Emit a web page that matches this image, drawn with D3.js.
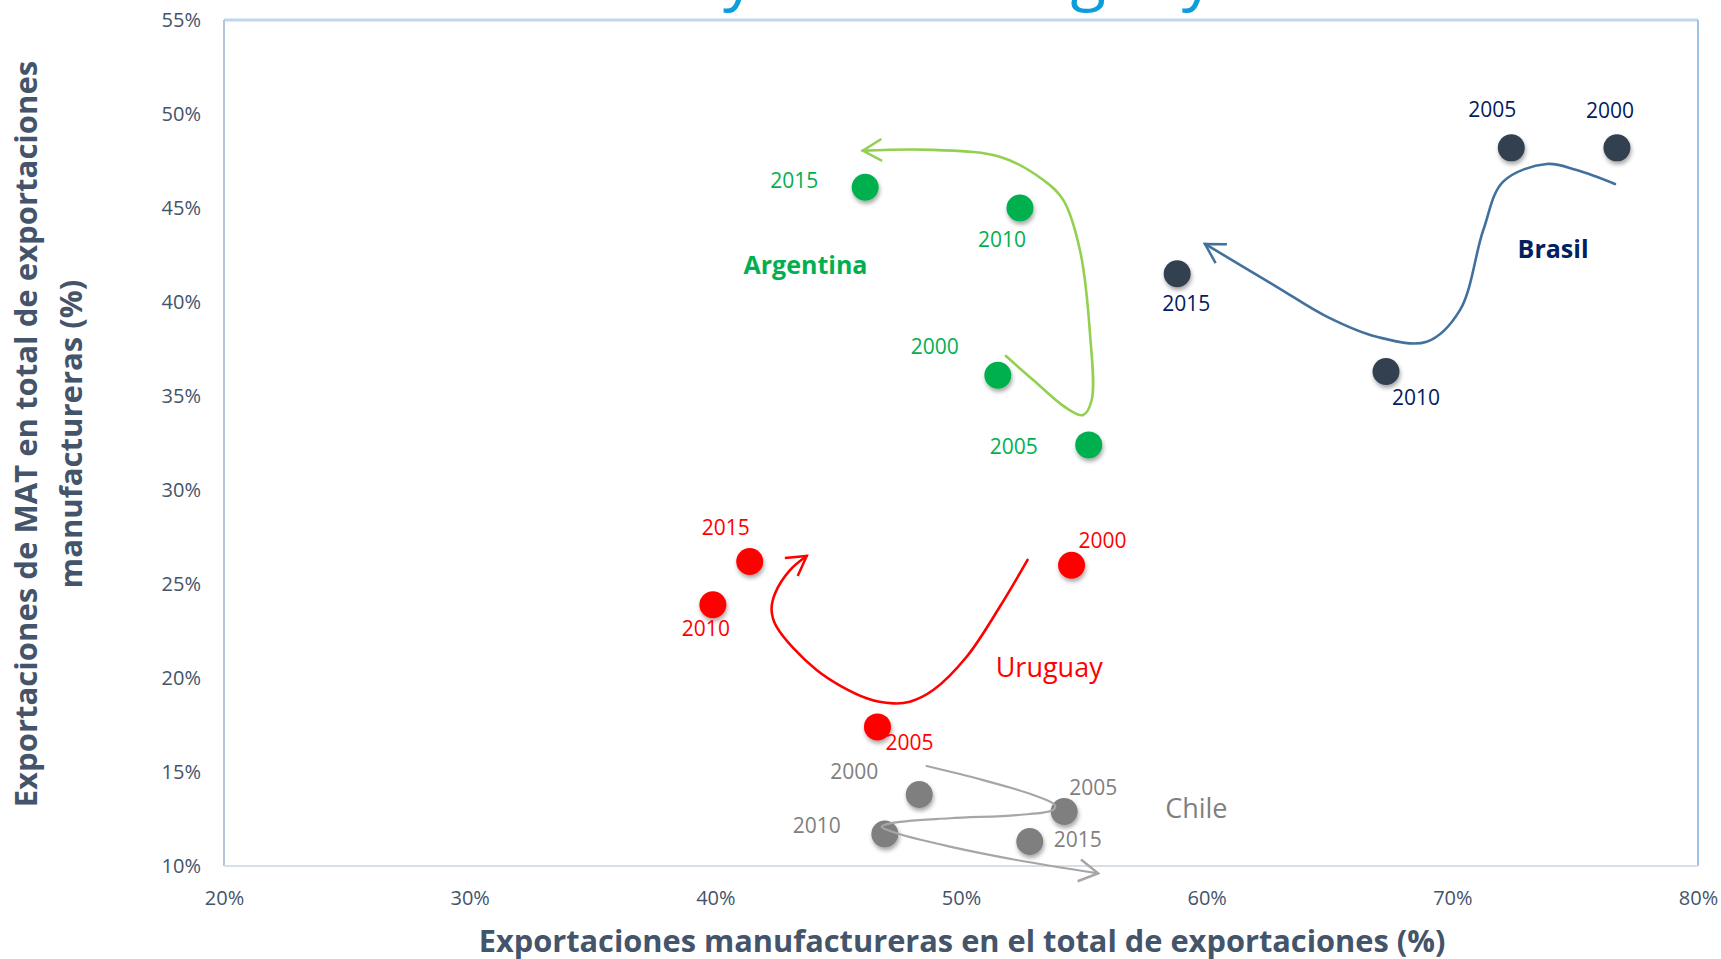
<!DOCTYPE html>
<html>
<head>
<meta charset="utf-8">
<script src="https://cdn.jsdelivr.net/npm/d3@7"></script>
<style>
  body { margin: 0; background: #fff; }
  svg { display: block; }
</style>
</head>
<body>
<svg id="chart"></svg>
<script>
// values (percent)
const years = ["2000", "2005", "2010", "2015"]

const brasilX = [76.7, 72.4, 67.3, 58.8]
const brasilY = [48.2, 48.2, 36.3, 41.5]
const argentinaX = [51.5, 55.2, 52.4, 46.1]
const argentinaY = [36.1, 32.4, 45.0, 46.1]
const uruguayX = [54.5, 46.6, 39.9, 41.4]
const uruguayY = [26.0, 17.4, 23.9, 26.2]
const chileX = [48.3, 54.2, 46.9, 52.8]
const chileY = [13.8, 12.9, 11.7, 11.3]

const xTicks = [20, 30, 40, 50, 60, 70, 80]
const yTicks = [10, 15, 20, 25, 30, 35, 40, 45, 50, 55]

// hand drawn trend arrows, in data units
const brasilTrend = [[76.62, 46.28], [75.06, 47.02], [73.84, 47.34], [72.07, 46.4], [71.26, 43.83], [70.31, 39.57], [68.96, 37.89], [66.92, 38.15], [64.89, 39.22], [62.85, 40.81], [59.93, 43.09]]
const argentinaTrend = [[51.83, 37.13], [52.94, 35.85], [54.3, 34.35], [54.97, 33.99], [55.32, 34.79], [55.25, 38.33], [54.84, 42.77], [54.16, 45.43], [53.35, 46.49], [51.58, 47.73], [48.86, 48.09], [46.0, 48.05]]
const uruguayTrend = [[52.71, 26.28], [51.58, 23.79], [50.23, 21.13], [48.87, 19.36], [47.92, 18.74], [47.24, 18.65], [46.16, 18.92], [44.12, 20.43], [42.49, 22.73], [42.29, 23.62], [42.43, 24.5], [43.04, 25.74], [43.72, 26.49]]
const chileTrend = [[48.6, 15.32], [50.9, 14.57], [52.94, 13.78], [53.82, 13.24], [53.75, 12.98], [52.26, 12.71], [49.55, 12.54], [47.11, 12.27], [46.77, 12.09], [47.38, 11.74], [49.55, 11.03], [52.26, 10.32], [55.58, 9.61]]

// where the country names sit, in data units
const brasilName = [74.1, 42.8]
const argentinaName = [43.67, 41.94]
const uruguayName = [53.59, 20.57]
const chileName = [59.58, 13.03]

// layout: year label offsets from each dot (px)
const brasilOffsets = [[-7, -37], [-19, -38], [30, 26], [9, 30]]
const argentinaOffsets = [[-63, -29], [-75, 2], [-18, 32], [-71, -7]]
const uruguayOffsets = [[31, -25], [32, 16], [-7, 24], [-24, -34]]
const chileOffsets = [[-65, -23], [29, -24], [-68, -8], [48, -2]]

const series = [
  { id: "brasil", name: "Brasil", xs: brasilX, ys: brasilY, trend: brasilTrend, namePos: brasilName, offsets: brasilOffsets,
    dot: "#333f50", text: "#002060", line: "#41719c", bold: true, nameSize: 25 },
  { id: "argentina", name: "Argentina", xs: argentinaX, ys: argentinaY, trend: argentinaTrend, namePos: argentinaName, offsets: argentinaOffsets,
    dot: "#00b050", text: "#00b050", line: "#92d050", bold: true, nameSize: 25 },
  { id: "uruguay", name: "Uruguay", xs: uruguayX, ys: uruguayY, trend: uruguayTrend, namePos: uruguayName, offsets: uruguayOffsets,
    dot: "#ff0000", text: "#ff0000", line: "#ff0000", bold: false, nameSize: 27 },
  { id: "chile", name: "Chile", xs: chileX, ys: chileY, trend: chileTrend, namePos: chileName, offsets: chileOffsets,
    dot: "#7f7f7f", text: "#7f7f7f", line: "#a6a6a6", bold: false, nameSize: 27 }
]

const width = 1721
const height = 959
const plotLeft = 224, plotRight = 1698, plotTop = 20, plotBottom = 866
const font = "'Open Sans', 'Noto Sans', sans-serif"
const axisColor = "#44546a"

const svg = d3.select("#chart")
  .attr("width", width)
  .attr("height", height)
  .style("font-family", font)

const defs = svg.append("defs")
defs.append("filter")
  .attr("id", "shadow")
  .attr("x", "-50%").attr("y", "-50%")
  .attr("width", "200%").attr("height", "200%")
  .append("feDropShadow")
  .attr("dx", 1).attr("dy", 3)
  .attr("stdDeviation", 2)
  .attr("flood-color", "#000")
  .attr("flood-opacity", 0.35)

series.forEach(s => {
  defs.append("marker")
    .attr("id", "arrow-" + s.id)
    .attr("markerUnits", "userSpaceOnUse")
    .attr("viewBox", "-22 -14 26 28")
    .attr("markerWidth", 26)
    .attr("markerHeight", 28)
    .attr("refX", 0)
    .attr("refY", 0)
    .attr("orient", "auto")
    .append("path")
    .attr("d", "M-19,-11L0,0L-19,11")
    .attr("fill", "none")
    .attr("stroke", s.line)
    .attr("stroke-width", 2.5)
})

const x = d3.scaleLinear().domain([20, 80]).range([plotLeft, plotRight])
const y = d3.scaleLinear().domain([10, 55]).range([plotBottom, plotTop])

// cut off title at the top of the slide
svg.append("text")
  .attr("x", 417)
  .attr("y", -3)
  .attr("font-size", 65)
  .attr("fill", "#0d9ddb")
  .text("Mercosur y Chile: Uruguay")

// plot frame
svg.append("line").attr("x1", plotLeft).attr("x2", plotRight).attr("y1", plotTop).attr("y2", plotTop)
  .attr("stroke", "#bdd7ee").attr("stroke-width", 3)
svg.append("line").attr("x1", plotRight).attr("x2", plotRight).attr("y1", plotTop).attr("y2", plotBottom)
  .attr("stroke", "#9dc3e6").attr("stroke-width", 2)
svg.append("line").attr("x1", plotLeft).attr("x2", plotLeft).attr("y1", plotTop).attr("y2", plotBottom)
  .attr("stroke", "#b4c5da").attr("stroke-width", 2)
svg.append("line").attr("x1", plotLeft).attr("x2", plotRight).attr("y1", plotBottom).attr("y2", plotBottom)
  .attr("stroke", "#d9dfe7").attr("stroke-width", 2)

// axes
const yAxis = svg.append("g")
  .attr("transform", `translate(${plotLeft},0)`)
  .call(d3.axisLeft(y).tickValues(yTicks).tickFormat(d => d + "%").tickSize(0).tickPadding(23))
const xAxis = svg.append("g")
  .attr("transform", `translate(0,${plotBottom})`)
  .call(d3.axisBottom(x).tickValues(xTicks).tickFormat(d => d + "%").tickSize(0).tickPadding(25))

;[xAxis, yAxis].forEach(g => {
  g.select(".domain").remove()
  g.selectAll("text")
    .attr("fill", axisColor)
    .style("font-family", font)
    .style("font-size", "20px")
})

// fit a text to a given width
function fit(sel, target, base) {
  sel.attr("font-size", base)
  const w = sel.node().getComputedTextLength()
  sel.attr("font-size", base * target / w)
}

const xTitle = svg.append("text")
  .attr("x", 962)
  .attr("y", 941)
  .attr("dy", "0.35em")
  .attr("text-anchor", "middle")
  .attr("font-weight", "bold")
  .attr("fill", axisColor)
  .text("Exportaciones manufactureras en el total de exportaciones (%)")
fit(xTitle, 967, 26)

const yTitle1 = svg.append("text")
  .attr("transform", "translate(26,434) rotate(-90)")
  .attr("dy", "0.35em")
  .attr("text-anchor", "middle")
  .attr("font-weight", "bold")
  .attr("fill", axisColor)
  .text("Exportaciones de MAT en total de exportaciones")
fit(yTitle1, 747, 26)

svg.append("text")
  .attr("transform", "translate(71,434) rotate(-90)")
  .attr("dy", "0.35em")
  .attr("text-anchor", "middle")
  .attr("font-weight", "bold")
  .attr("fill", axisColor)
  .attr("font-size", yTitle1.attr("font-size"))
  .text("manufactureras (%)")

// dots
const line = d3.line()
  .x(d => x(d[0]))
  .y(d => y(d[1]))
  .curve(d3.curveCatmullRom.alpha(0.5))

series.forEach(s => {
  const pts = years.map((yr, i) => ({ year: yr, vx: s.xs[i], vy: s.ys[i], off: s.offsets[i] }))
  const g = svg.append("g").attr("class", "series-" + s.id)

  g.selectAll("circle")
    .data(pts)
    .enter().append("circle")
    .attr("cx", d => x(d.vx))
    .attr("cy", d => y(d.vy))
    .attr("r", 13.5)
    .attr("fill", s.dot)
    .attr("filter", "url(#shadow)")

  g.selectAll("text.year")
    .data(pts)
    .enter().append("text")
    .attr("class", "year")
    .attr("x", d => x(d.vx) + d.off[0])
    .attr("y", d => y(d.vy) + d.off[1])
    .attr("dy", "0.35em")
    .attr("text-anchor", "middle")
    .attr("font-size", 21)
    .attr("fill", s.text)
    .text(d => d.year)
})

// trend arrows sit on top of the dots
series.forEach(s => {
  svg.append("path")
    .datum(s.trend)
    .attr("d", line)
    .attr("fill", "none")
    .attr("stroke", s.line)
    .attr("stroke-width", s.id === "chile" ? 2.2 : 2.6)
    .attr("stroke-linecap", "round")
    .attr("marker-end", `url(#arrow-${s.id})`)

  svg.append("text")
    .attr("x", x(s.namePos[0]))
    .attr("y", y(s.namePos[1]))
    .attr("dy", "0.35em")
    .attr("text-anchor", "middle")
    .attr("font-size", s.nameSize)
    .attr("font-weight", s.bold ? "bold" : "normal")
    .attr("fill", s.text)
    .text(s.name)
})
</script>
</body>
</html>
